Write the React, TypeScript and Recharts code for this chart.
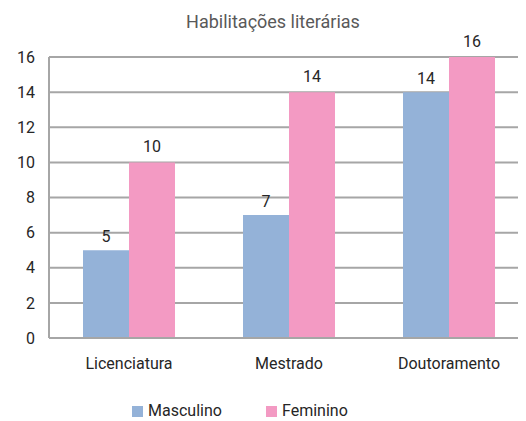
import React from 'react';
import { BarChart, Bar, XAxis, YAxis, CartesianGrid, LabelList } from 'recharts';

const categories = ['Licenciatura', 'Mestrado', 'Doutoramento'];
const masculino = [5, 7, 14];
const feminino = [10, 14, 16];
const yTicks = [0, 2, 4, 6, 8, 10, 12, 14, 16];

const data = categories.map((c, i) => ({ name: c, Masculino: masculino[i], Feminino: feminino[i] }));

const BLUE = '#94B2D8';
const PINK = '#F39AC3';
const FONT = 'Roboto, "Noto Sans", sans-serif';

export default function App() {
  return (
    <div style={{ position: 'relative', width: 518, height: 413, overflow: 'hidden', fontFamily: FONT }}>
      <div
        style={{
          position: 'absolute',
          left: 0,
          top: 3,
          width: 530,
          textAlign: 'center',
          fontSize: 18,
          color: '#595959',
          zIndex: 2,
        }}
      >
        Habilitações literárias
      </div>
      <BarChart
        width={522}
        height={413}
        data={data}
        margin={{ top: 49, right: 1, bottom: 53, left: 0 }}
        barCategoryGap={34}
        barGap={0}
      >
        <CartesianGrid vertical={false} stroke="#A6A6A6" strokeWidth={2} />
        <XAxis
          dataKey="name"
          height={30}
          axisLine={{ stroke: '#A6A6A6', strokeWidth: 2 }}
          tickLine={false}
          tick={{ fill: '#262626', fontSize: 16, fontFamily: FONT }}
          tickMargin={14}
        />
        <YAxis
          ticks={yTicks}
          domain={[0, 16]}
          width={41}
          axisLine={{ stroke: '#A6A6A6', strokeWidth: 2 }}
          tickLine={false}
          tick={{ fill: '#262626', fontSize: 16, fontFamily: FONT }}
          tickMargin={8}
          interval={0}
        />
        <Bar dataKey="Masculino" fill={BLUE} isAnimationActive={false}>
          <LabelList dataKey="Masculino" position="top" offset={8} fill="#262626" fontSize={16} fontFamily={FONT} />
        </Bar>
        <Bar dataKey="Feminino" fill={PINK} isAnimationActive={false}>
          <LabelList dataKey="Feminino" position="top" offset={10} fill="#262626" fontSize={16} fontFamily={FONT} />
        </Bar>
      </BarChart>
      <div
        style={{
          position: 'absolute',
          top: 393,
          left: 124,
          display: 'flex',
          alignItems: 'center',
          fontSize: 16,
          color: '#262626',
          lineHeight: '20px',
        }}
      >
        <span style={{ display: 'inline-block', width: 11, height: 11, background: BLUE, marginRight: 5 }} />
        <span style={{ width: 118 }}>Masculino</span>
        <span style={{ display: 'inline-block', width: 11, height: 11, background: PINK, marginRight: 5 }} />
        <span>Feminino</span>
      </div>
    </div>
  );
}
